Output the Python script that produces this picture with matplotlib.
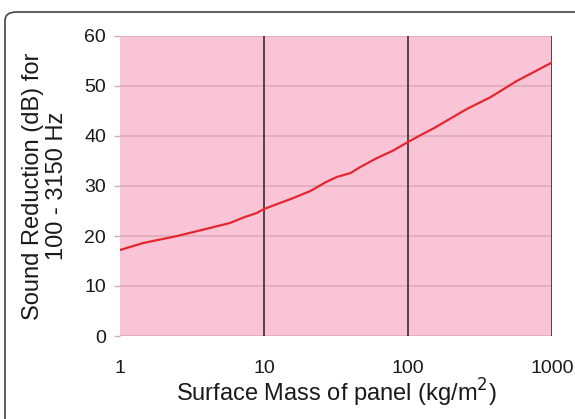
import matplotlib as mpl
mpl.use('Agg')
import matplotlib.pyplot as plt
from matplotlib.patches import FancyBboxPatch

# surface mass (kg/m2) and sound reduction (dB)
mass = [1, 1.45, 2.5, 4.2, 5.8, 7.2, 8.9, 10, 16, 21, 27, 32, 40, 46, 60, 79,
        100, 121, 150, 256, 371, 569, 1000]
reduction = [17.2, 18.6, 20.0, 21.6, 22.6, 23.7, 24.6, 25.4, 27.6, 29.0, 30.8,
             31.8, 32.6, 33.7, 35.5, 37.1, 38.8, 40.1, 41.5, 45.4, 47.7, 51.0, 54.7]

x_ticks = [1, 10, 100, 1000]
x_tick_labels = ['1', '10', '100', '1000']
y_ticks = [0, 10, 20, 30, 40, 50, 60]

plt.rcParams['font.family'] = ['Liberation Sans', 'DejaVu Sans']

fig = plt.figure(figsize=(5.75, 4.19), dpi=100)

# rounded outer frame, running off the right and bottom edges
frame = FancyBboxPatch((5 / 575, -0.05), 1.2, (419 - 12) / 419 + 0.05,
                       boxstyle='round,pad=0,rounding_size=0.02',
                       transform=fig.transFigure, facecolor='white',
                       edgecolor='#444444', lw=1.2, zorder=-1)
fig.patches.append(frame)

ax = fig.add_axes([120 / 575, (419 - 336) / 419, 432 / 575, 300 / 419])
ax.set_zorder(1)
ax.set_facecolor('#F9C4D5')

ax.set_xscale('log')
ax.set_xlim(1, 1000)
ax.set_ylim(0, 60)

for y in y_ticks:
    ax.axhline(y, color='#DCAABA', lw=1.2, zorder=1)
for x in x_ticks[1:]:
    ax.axvline(x, color='#3a2a30', lw=1.2, zorder=2)

ax.plot(mass, reduction, color='#E5262E', lw=1.6, zorder=3)

for s in ax.spines.values():
    s.set_visible(False)

ax.set_xticks(x_ticks)
ax.set_xticklabels(x_tick_labels)
ax.xaxis.set_minor_locator(mpl.ticker.NullLocator())
ax.set_yticks(y_ticks)
ax.tick_params(axis='x', length=0, pad=17, labelsize=14, colors='#1a1a1a')
ax.tick_params(axis='y', length=4, width=1, color='#DCAABA', pad=6,
               labelsize=14, labelcolor='#1a1a1a')

ax.set_xlabel('Surface Mass of panel (kg/m$^2$)', fontsize=17, labelpad=0,
              color='#1a1a1a')
ax.set_ylabel('Sound Reduction (dB) for\n100 - 3150 Hz', fontsize=17,
              labelpad=12, color='#1a1a1a', linespacing=1.1)

plt.savefig('out.png', dpi=100)
plt.close()
